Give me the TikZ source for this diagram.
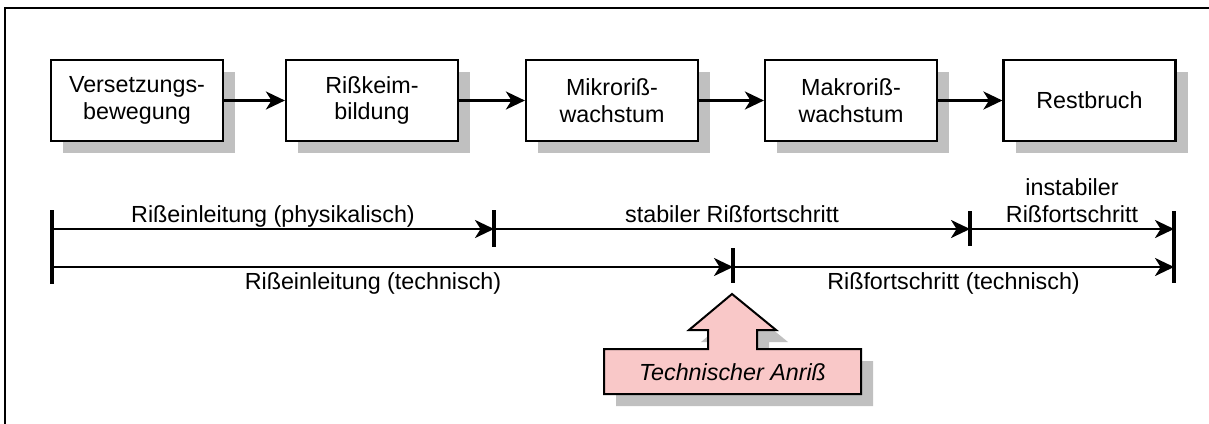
\documentclass[tikz,border=0pt]{standalone}
\usepackage{fontspec}
\setmainfont{Liberation Sans}
\usetikzlibrary{arrows.meta,shadows,calc}
\definecolor{shadowgray}{RGB}{192,192,192}
\definecolor{anrisspink}{RGB}{249,200,200}
\tikzset{
  txt/.style={font=\fontsize{11.65}{13.35}\selectfont, inner sep=0pt, align=center},
  stepbox/.style={txt, draw, line width=1.1pt, fill=white,
    minimum width=86pt, minimum height=40.5pt,
    drop shadow={shadow xshift=6pt, shadow yshift=-5.75pt, fill=shadowgray, opacity=1}},
  conn/.style={line width=1.3pt, -{Stealth[length=9.5pt, width=9pt, inset=2.8pt]}},
  tl/.style={line width=1.45pt, -{Stealth[length=9.5pt, width=9pt, inset=2.8pt]}},
  tick/.style={line width=1.6pt},
  lbl/.style={txt, anchor=base},
}
\begin{document}
\begin{tikzpicture}[x=0.5pt, y=-0.5pt]
  \useasboundingbox (0,0) rectangle (1209,423);
  % frame
  \draw[line width=1.3pt] (5,430) -- (5,8) -- (1215,8);

  % process boxes
  \node[stepbox] (b1) at (137,100.5) {Versetzungs-\\bewegung};
  \node[stepbox] (b2) at (372,100.5) {Rißkeim-\\bildung};
  \node[stepbox] (b3) at (612,100.5) {Mikroriß-\\wachstum};
  \node[stepbox] (b4) at (851,100.5) {Makroriß-\\wachstum};
  \node[stepbox] (b5) at (1089.5,100.5) {Restbruch};
  \draw[conn] (b1) -- (b2);
  \draw[conn] (b2) -- (b3);
  \draw[conn] (b3) -- (b4);
  \draw[conn] (b4) -- (b5);

  % timeline coordinates
  \coordinate (t0) at (52,229);
  \coordinate (t1) at (494,229);
  \coordinate (t2) at (970,229);
  \coordinate (t3) at (1174,229);
  \coordinate (u0) at (52,267);
  \coordinate (u1) at (733,267);
  \coordinate (u2) at (1174,267);

  % ticks
  \draw[tick] (52,210) -- (52,284);
  \draw[tick] (494,210) -- (494,247);
  \draw[tick] (970,211) -- (970,246);
  \draw[tick] (733,248) -- (733,283);
  \draw[tick] (1174,211) -- (1174,283);

  % arrows
  \draw[tl] (t0) -- (t1);
  \draw[tl] (t1) -- (t2);
  \draw[tl] (t2) -- (t3);
  \draw[tl] (u0) -- (u1);
  \draw[tl] (u1) -- (u2);

  % labels
  \node[lbl] (l1) at ($(t0)!0.5!(t1)+(0,-7)$) {Rißeinleitung (physikalisch)};
  \node[lbl] (l2) at ($(t1)!0.5!(t2)+(0,-7)$) {stabiler Rißfortschritt};
  \node[lbl] (l3) at ($(t2)!0.5!(t3)+(0,-7)$) {Rißfortschritt};
  \node[lbl] (l3b) at ($(t2)!0.5!(t3)+(0,-33.7)$) {instabiler};
  \node[lbl] (l4) at (373,289) {Rißeinleitung (technisch)};
  \node[lbl] (l5) at ($(u1)!0.5!(u2)+(0,22)$) {Rißfortschritt (technisch)};

  % technischer Anriss block arrow
  \fill[shadowgray, shift={(12,12)}] (604,349) -- (708,349) -- (708,330) -- (689,330) -- (732,294) -- (776,330) -- (757,330) -- (757,349) -- (861,349) -- (861,394) -- (604,394) -- cycle;
  \draw[line width=1pt, fill=anrisspink, line join=miter] (604,349) -- (708,349) -- (708,330) -- (689,330) -- (732,294) -- (776,330) -- (757,330) -- (757,349) -- (861,349) -- (861,394) -- (604,394) -- cycle;
  \node[txt, font=\fontsize{11.65}{13.35}\selectfont\itshape] (anriss) at (732.5,372) {Technischer Anriß};
\end{tikzpicture}
\end{document}
